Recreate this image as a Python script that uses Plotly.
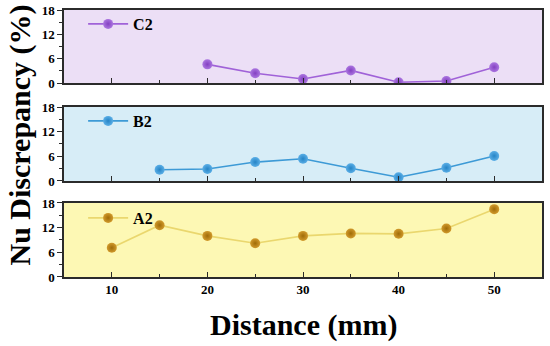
import plotly.graph_objects as go

distance = [10, 15, 20, 25, 30, 35, 40, 45, 50]
c2_values = [None, None, 4.6, 2.4, 1.0, 3.1, 0.2, 0.5, 3.9]
b2_values = [None, 2.75, 2.9, 4.6, 5.4, 3.1, 0.9, 3.2, 6.1]
a2_values = [7.1, 12.6, 10.0, 8.2, 10.0, 10.6, 10.5, 11.8, 16.5]

series_names = ["C2", "B2", "A2"]
line_colors = ["#a062d8", "#3d9ad6", "#ead76e"]
marker_colors = ["#8440c2", "#2584c6", "#a06c08"]
marker_centers = ["#ab76e0", "#5aaee6", "#d19a2c"]
panel_bg = ["#ecdff6", "#d7edf7", "#fdf8b4"]

y_ticks = [0, 6, 12, 18]
x_ticks = [10, 20, 30, 40, 50]

FONT = "Liberation Serif"
AXC = "#2b2b2b"

domains = [[0.7266, 1.0], [0.3596, 0.6367], [0.0, 0.2772]]
series = [c2_values, b2_values, a2_values]
legend_names = ["legend", "legend2", "legend3"]
legend_y = [0.9476, 0.5843, 0.2210]

fig = go.Figure()
for i in range(3):
    ax = "" if i == 0 else str(i + 1)
    fig.add_trace(go.Scatter(
        x=distance, y=series[i], name=series_names[i],
        mode="lines+markers",
        xaxis="x" + ax, yaxis="y" + ax,
        line=dict(color=line_colors[i], width=1.6),
        marker=dict(size=10, color=marker_centers[i],
                    gradient=dict(type="radial", color=marker_colors[i]),
                    line=dict(width=0)),
        legend=legend_names[i], connectgaps=False,
    ))

layout = dict(
    width=550, height=346,
    margin=dict(l=64, r=8, t=10, b=69, autoexpand=False),
    paper_bgcolor="white", plot_bgcolor="white",
    font=dict(family=FONT, color="black"),
    showlegend=True,
)

for i in range(3):
    ax = "" if i == 0 else str(i + 1)
    layout["xaxis" + ax] = dict(
        domain=[0, 1], anchor="y" + ax, range=[5, 55], automargin=False,
        tickvals=x_ticks, ticks="inside", ticklen=5, tickwidth=1.3, tickcolor=AXC,
        minor=dict(tickvals=[15, 25, 35, 45], ticks="inside", ticklen=3, tickwidth=1, tickcolor=AXC),
        showticklabels=(i == 2),
        tickfont=dict(family=FONT, size=13, color="black", weight="bold"),
        showline=True, linecolor=AXC, linewidth=1.5, mirror=True,
        showgrid=False, zeroline=False,
    )
    layout["yaxis" + ax] = dict(
        domain=domains[i], anchor="x" + ax, range=[0, 18], automargin=False,
        tickvals=y_ticks, ticks="outside", ticklen=5, tickwidth=1.3, tickcolor=AXC,
        minor=dict(tickvals=[3, 9, 15], ticks="outside", ticklen=3, tickwidth=1, tickcolor=AXC),
        tickfont=dict(family=FONT, size=13, color="black", weight="bold"),
        showline=True, linecolor=AXC, linewidth=1.5, mirror=True,
        showgrid=False, zeroline=False,
    )
    layout[legend_names[i]] = dict(
        x=0.04, y=legend_y[i], xanchor="left", yanchor="middle",
        bgcolor="rgba(0,0,0,0)", borderwidth=0, itemwidth=40,
        font=dict(family=FONT, size=16, color="black", weight="bold"),
    )

fig.update_layout(**layout)

shapes = []
for i in range(3):
    shapes.append(dict(type="rect", xref="paper", yref="paper",
                       x0=0, x1=1, y0=domains[i][0], y1=domains[i][1],
                       fillcolor=panel_bg[i], line=dict(width=0), layer="below"))
fig.update_layout(shapes=shapes)

fig.add_annotation(text="<b>Nu Discrepancy (%)</b>", xref="paper", yref="paper",
                   x=-0.092, y=0.53, textangle=-90, showarrow=False,
                   xanchor="center", yanchor="middle",
                   font=dict(family=FONT, size=30, color="black"))
fig.add_annotation(text="<b>Distance (mm)</b>", xref="paper", yref="paper",
                   x=0.5, y=-0.18, showarrow=False,
                   xanchor="center", yanchor="middle",
                   font=dict(family=FONT, size=30, color="black"))

fig.write_html("out.html", config={"displayModeBar": False},
               post_script="document.body.style.margin='0';document.body.style.overflow='hidden';")
